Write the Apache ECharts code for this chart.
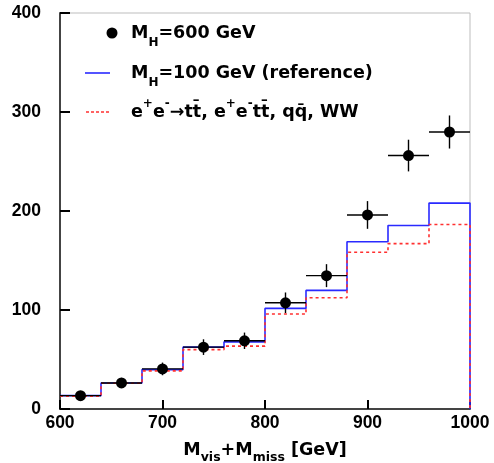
<!DOCTYPE html>
<html>
<head>
<meta charset="utf-8">
<script src="https://cdn.jsdelivr.net/npm/echarts@6/dist/echarts.min.js"></script>
<style>
html,body{margin:0;padding:0;background:#fff;}
#main{width:494px;height:463px;}
</style>
</head>
<body>
<div id="main"></div>
<script>
// Histogram bin edges (GeV)
var binEdges = [600, 640, 680, 720, 760, 800, 840, 880, 920, 960, 1000];
// M_H = 100 GeV reference histogram (blue)
var refValues = [13.5, 26.3, 39.8, 62.5, 67.8, 101.6, 119.8, 169, 185.3, 208];
// Background e+e- -> tt, e+e-tt, qq, WW (red dotted)
var bkgValues = [13, 26, 38.5, 60, 63.5, 95.9, 112.4, 158.3, 167, 186.3];
// M_H = 600 GeV data points (bin centres)
var pointX = [620, 660, 700, 740, 780, 820, 860, 900, 940, 980];
var pointY = [13.5, 26.3, 40.5, 62.5, 68.9, 107.3, 134.7, 196, 256, 279.8];
var pointErr = [3.7, 5.1, 6.4, 7.9, 8.3, 10.4, 11.6, 14, 16, 16.7];
var xTicks = [600, 700, 800, 900, 1000];
var yTicks = [0, 100, 200, 300, 400];

function stepData(vals) {
  var d = [];
  for (var i = 0; i < vals.length; i++) d.push([binEdges[i], vals[i]]);
  d.push([binEdges[binEdges.length - 1], vals[vals.length - 1]]);
  d.push([binEdges[binEdges.length - 1], 0]);
  return d;
}
var errData = pointX.map(function (x, i) {
  return [x, pointY[i], pointErr[i], (binEdges[i + 1] - binEdges[i]) / 2];
});
var scatterData = pointX.map(function (x, i) { return [x, pointY[i]]; });

var FONT = '"Liberation Sans", Arial, sans-serif';
var LFONT = '"DejaVu Sans", sans-serif';
var baseRich = {
  a: {fontSize: 17.5, fontWeight: 'bold', fontFamily: LFONT, color: '#000', lineHeight: 22},
  sub: {fontSize: 12, fontWeight: 'bold', fontFamily: LFONT, color: '#000', lineHeight: 12, padding: [20, 0, 0, 0]},
  sup: {fontSize: 12, fontWeight: 'bold', fontFamily: LFONT, color: '#000', lineHeight: 12, padding: [0, 0, 16, 0]}
};
function richWithPad(p) {
  var r = JSON.parse(JSON.stringify(baseRich));
  r.a0 = {fontSize: 17.5, fontWeight: 'bold', fontFamily: LFONT, color: '#000', lineHeight: 22, padding: [0, 0, 0, p]};
  return r;
}
var DASH_ICON = 'path://M0,0h3v1.6h-3zM5,0h3v1.6h-3zM10,0h3v1.6h-3zM15,0h3v1.6h-3zM20,0h3v1.6h-3z';

var NAME1 = 'MH600', NAME2 = 'MH100', NAME3 = 'BKG';
var chart = echarts.init(document.getElementById('main'), null, {renderer: 'canvas'});
chart.setOption({
  animation: false,
  backgroundColor: '#fff',
  grid: {left: 60, right: 24, top: 13, bottom: 54, outerBoundsMode: 'none', containLabel: false,
         show: true, borderColor: '#bdbdbd', borderWidth: 1, backgroundColor: 'transparent'},
  legend: [
    {data: [{name: NAME1, icon: 'circle'}], left: 106.5, top: 17, padding: 0, itemWidth: 11, itemHeight: 11,
     formatter: function () { return '{a0|M}{sub|H}{a|=600 GeV}'; },
     textStyle: {rich: richWithPad(8.5)}, selectedMode: false},
    {data: [{name: NAME2, icon: 'rect'}], left: 85, top: 57, padding: 0, itemWidth: 25, itemHeight: 1.6,
     formatter: function () { return '{a0|M}{sub|H}{a|=100 GeV (reference)}'; },
     textStyle: {rich: richWithPad(16)}, selectedMode: false},
    {data: [{name: NAME3, icon: DASH_ICON}], left: 86, top: 98, padding: 0, itemWidth: 23, itemHeight: 1.6,
     formatter: function () { return '{a0|e}{sup|+}{a|e}{sup|-}{a|\u2192tt\u0304, e}{sup|+}{a|e}{sup|-}{a|tt\u0304, qq\u0304, WW}'; },
     textStyle: {rich: richWithPad(17)}, selectedMode: false}
  ],
  xAxis: {
    type: 'value', min: 600, max: 1000, interval: 100,
    name: '{a|M}{s|vis}{a|+M}{s|miss}{b| [GeV]}', nameLocation: 'middle', nameGap: 27,
    nameTextStyle: {rich: {
      a: {fontSize: 17.5, fontWeight: 'bold', fontFamily: LFONT, color: '#000', lineHeight: 22},
      b: {fontSize: 17.5, fontWeight: 'bold', fontFamily: LFONT, color: '#000', lineHeight: 22},
      s: {fontSize: 12.5, fontWeight: 'bold', fontFamily: LFONT, color: '#000', lineHeight: 13, padding: [14, 0, 0, 0]}
    }},
    axisLine: {show: true, onZero: false, lineStyle: {color: '#444', width: 2}},
    axisTick: {show: true, inside: true, length: 9, lineStyle: {color: '#000', width: 2}},
    axisLabel: {fontSize: 17.5, fontWeight: 'bold', fontFamily: FONT, color: '#000', margin: 5,
      formatter: function (v) { return String(v); }},
    splitLine: {show: false}
  },
  yAxis: {
    type: 'value', min: 0, max: 400, interval: 100,
    axisLine: {show: true, onZero: false, lineStyle: {color: '#444', width: 2}},
    axisTick: {show: true, inside: true, length: 10, lineStyle: {color: '#000', width: 2}},
    axisLabel: {fontSize: 17.5, fontWeight: 'bold', fontFamily: FONT, color: '#000', margin: 19,
      formatter: function (v) { return String(v); }},
    splitLine: {show: false}
  },
  series: [
    {name: NAME2, type: 'line', step: 'end', data: stepData(refValues), symbol: 'none', showSymbol: false,
     lineStyle: {color: '#2a2aff', width: 1.6}, itemStyle: {color: '#2a2aff'}, z: 2},
    {name: NAME3, type: 'line', step: 'end', data: stepData(bkgValues), symbol: 'none', showSymbol: false,
     lineStyle: {color: '#ff3030', width: 1.6, type: [3, 3]}, itemStyle: {color: '#ff3030'}, z: 3},
    {name: 'err', type: 'custom', data: errData, z: 4,
     renderItem: function (params, api) {
       var x = api.value(0), y = api.value(1), ey = api.value(2), ex = api.value(3);
       var l = api.coord([x - ex, y]), r = api.coord([x + ex, y]);
       var t = api.coord([x, y + ey]), b = api.coord([x, y - ey]);
       var st = {stroke: '#000', lineWidth: 1.4};
       return {type: 'group', children: [
         {type: 'line', shape: {x1: l[0], y1: l[1], x2: r[0], y2: r[1]}, style: st},
         {type: 'line', shape: {x1: t[0], y1: t[1], x2: b[0], y2: b[1]}, style: st}
       ]};
     }},
    {name: NAME1, type: 'scatter', data: scatterData, symbol: 'circle', symbolSize: 11,
     itemStyle: {color: '#000', opacity: 1}, z: 5}
  ]
});
</script>
</body>
</html>
